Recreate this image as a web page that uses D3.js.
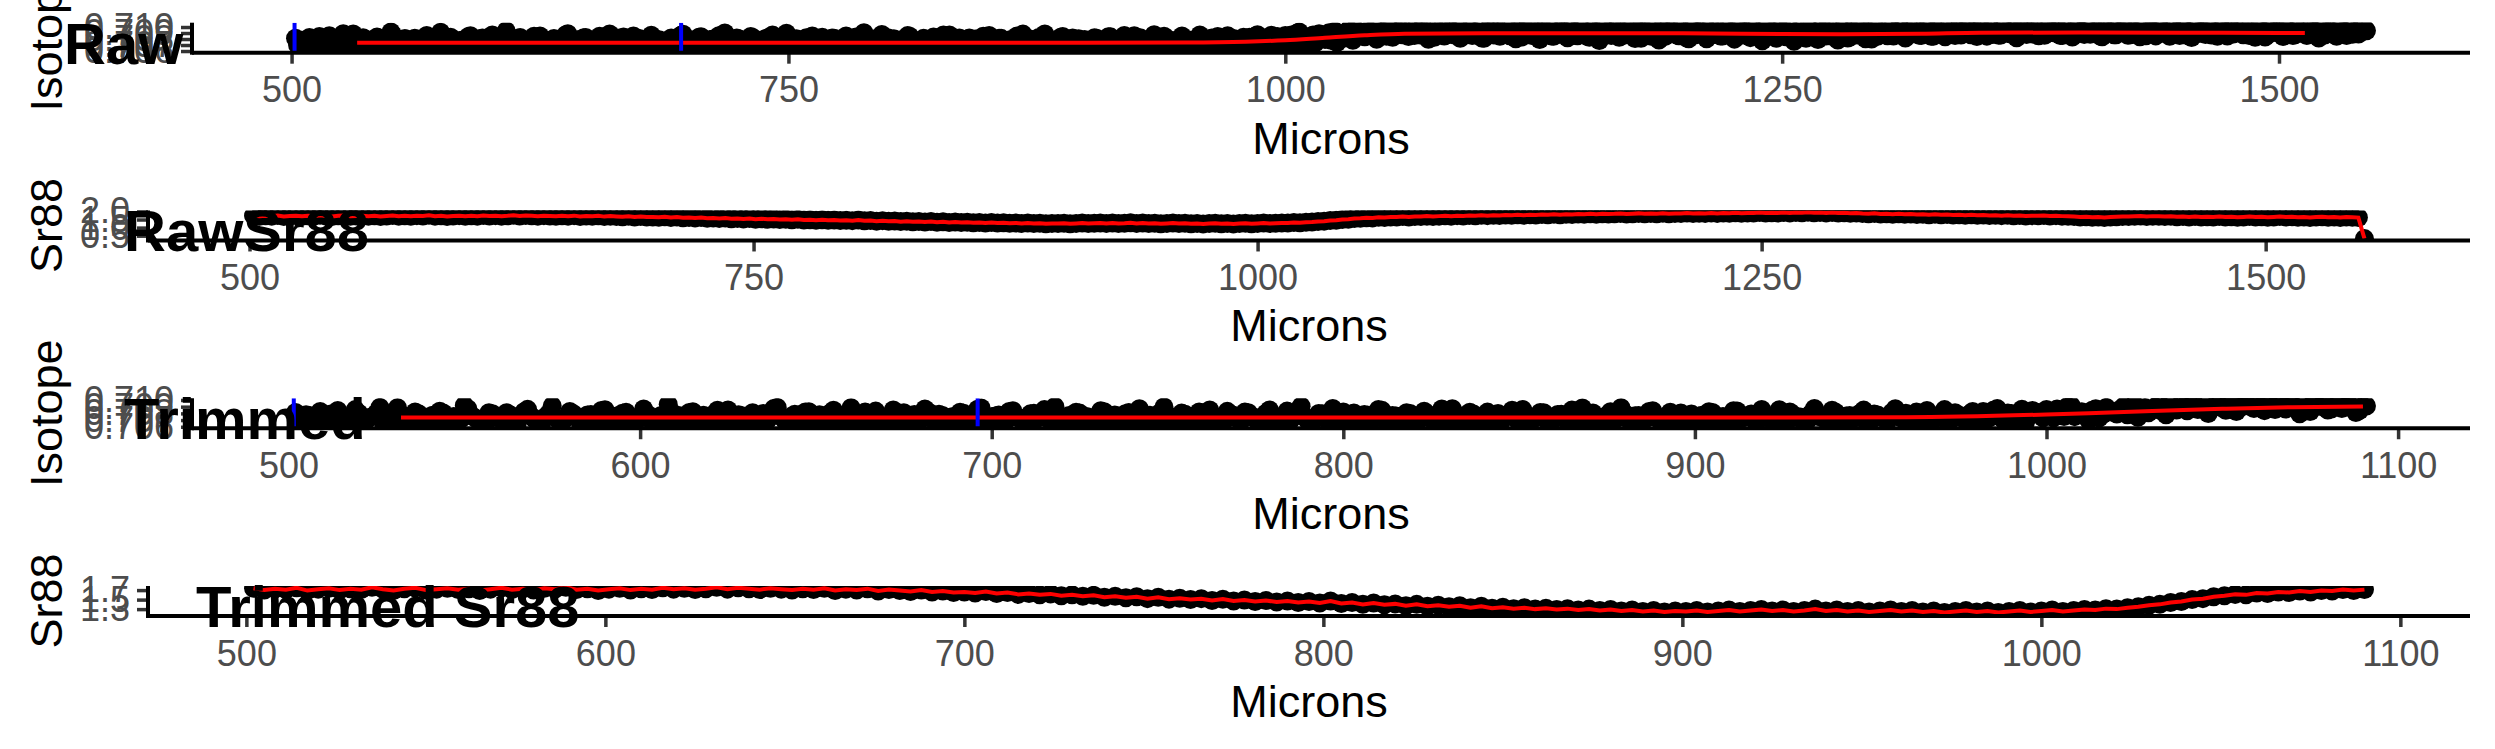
<!DOCTYPE html>
<html><head><meta charset="utf-8">
<script src="https://cdn.jsdelivr.net/npm/d3@7"></script>
<style>body{margin:0;background:#fff}svg{display:block}text{font-family:"Liberation Sans",Arial,Helvetica,sans-serif}</style>
</head><body><svg id="c" width="2495" height="749"></svg>
<script>
// ---------------- data ----------------
// Isotope ratio samples (value = 0.70 + v/1e5). Even-micron samples from 502, odd-micron samples from 503.
const isoStartA = 502, isoStartB = 503, isoStep = 2;
const isotopeA = [
812,671,768,739,655,790,842,701,733,801,688,757,889,720,640,779,730,822,695,748,
716,806,662,741,918,769,707,631,795,728,811,668,752,860,713,650,799,737,694,829,
741,703,783,648,854,761,718,817,676,729,790,622,770,935,705,744,813,667,772,697,
846,725,652,779,710,808,739,682,871,757,671,788,715,826,640,746,803,694,762,883,
723,819,669,748,700,851,645,731,785,716,821,679,769,738,626,800,712,862,664,751,
775,691,838,730,659,802,744,719,899,685,768,817,648,740,698,826,760,666,795,721,
868,690,757,812,652,733,804,705,770,630,852,742,675,786,716,819,747,644,801,727,
698,834,762,906,683,739,794,657,758,821,714,642,784,733,857,688,769,718,811,661,
741,789,696,867,726,638,765,816,706,744,672,799,750,846,663,779,717,813,689,736,
787,648,760,882,711,752,680,824,735,797,654,770,719,841,692,763,660,806,742,713,
771,823,684,753,642,836,737,790,699,765,
724,853,663,781,746,693,872,759,708,818,667,770,739,849,690,777,716,812,753,
801,690,776,842,712,759,668,810,737,786,
705,829,741,871,690,798,752,664,843,779,
857,736,812,902,751,826,700,869,783,838,
790,905,818,741,887,852,956,779,861,922,
838,948,866,797,921,884,1003,829,905,958,
948,841,912,1009,866,931,795,884,967,902,850,1021,873,936,812,905,982,859,927,889,
814,959,897,1034,846,918,875,992,803,941,883,1012,858,927,790,969,904,849,1040,881,
935,822,976,868,1005,911,842,954,889,776,1017,903,860,947,829,990,872,921,807,958,
896,1026,848,913,785,971,879,934,1046,856,902,817,985,867,942,898,803,1001,874,927,
851,964,887,798,1019,869,932,823,958,880,771,995,854,916,880,1008,837,897,764,943,
872,813,969,886,790,1004,851,926,868,784,957,890,829,1012,865,921,806,973,884,846,
937,874,1019,849,905,963,818,992,887,931,860,1037,902,845,977,913,836,1006,889,950,
865,1024,918,951,843,989,905,1048,876,932,866,1015,898,958,821,976,925,1041,884,947,
903,862,995,931,1030,857,968,914,834,1009,942,877,1027,896,953,848,985,921,1044,872,
939,1001,861,962,917,836,1019,905,971,852,996,930,879,1038,913,859,982,944,825,1006,
897,958,1023,866,935,880,1012,849,967,918,1036,871,946,901,828,990,926,863,1017,909,
952,842,996,905,871,1025,918,860,983,937,815,1004,892,948,869,1031,903,857,975,921,
884,1049,938
];
const isotopeB = [
702,781,659,827,744,693,768,718,856,675,739,802,661,754,884,707,726,795,648,771,
833,689,752,714,869,736,667,808,745,690,779,631,824,757,702,748,912,683,735,796,
661,776,720,843,694,758,803,677,731,866,709,747,640,815,768,699,826,734,672,789,
717,852,684,763,728,641,797,744,889,706,755,668,821,735,779,695,847,726,658,802,
749,691,834,712,770,655,808,739,697,864,720,786,633,752,817,706,743,879,674,761,
695,828,747,670,793,731,856,688,764,719,637,804,752,698,841,727,775,660,813,742,
686,771,718,895,749,664,787,733,822,701,758,646,830,767,692,811,738,675,852,719,
763,697,826,741,658,799,716,874,688,752,806,639,773,729,845,694,761,718,797,670,
832,715,754,681,868,737,702,790,653,819,746,687,772,726,858,699,740,811,664,785,
721,849,692,758,805,647,773,736,884,710,765,679,828,743,696,817,732,656,790,757,
688,812,745,673,838,719,764,702,859,731,
776,694,821,737,667,795,752,713,846,684,760,728,803,651,789,742,699,869,724,
752,819,694,781,737,856,711,774,690,829,
776,713,851,738,807,684,862,759,821,735,
794,865,752,917,808,771,846,733,889,812,
863,779,931,842,808,894,826,967,851,903,
912,858,979,874,929,846,997,889,936,871,
902,967,858,935,1004,881,944,829,918,989,866,952,897,1030,843,911,978,870,941,815,
926,1008,869,947,884,1041,853,915,972,834,960,901,1019,862,938,889,996,845,928,973,
879,1013,920,856,987,903,831,966,912,1035,871,944,889,998,850,921,1027,884,956,812,
943,876,1009,895,962,841,1022,907,868,981,924,803,995,881,939,1052,866,915,978,849,
907,968,836,1012,894,941,865,989,918,847,1006,879,933,811,972,902,1031,858,925,880,
864,992,907,826,958,883,1015,846,931,875,999,818,951,897,1026,862,940,801,983,918,
911,853,976,935,1008,872,947,899,1039,861,924,988,847,963,906,1017,879,942,857,995,
929,1003,871,958,892,1036,848,975,917,862,1011,939,883,968,905,1043,876,931,992,854,
946,888,1017,903,971,859,1006,924,866,988,941,1032,879,915,962,838,1001,927,870,983,
908,1027,871,949,894,1014,853,966,932,881,1008,918,847,979,940,1033,865,921,987,896,
958,874,1021,909,846,987,933,1040,882,951,897,1015,859,942,908,981,835,1004,925,968,
889,1012,936,859,978,907,1036,873,945,892,1009,866,957,918,847,997,928,1045,881,954,
910,972
];
// Sr88 samples, one every 3 microns from 502
const srStart = 502, srStep = 3;
const sr88Raw = [
1.74,1.70,1.73,1.71,1.75,1.69,1.72,1.74,1.70,1.73,
1.71,1.76,1.72,1.69,1.73,1.75,1.70,1.72,1.74,1.71,
1.73,1.69,1.72,1.75,1.71,1.73,1.70,1.74,1.72,1.76,
1.71,1.73,1.69,1.72,1.74,1.70,1.73,1.71,1.75,1.72,
1.74,1.71,1.73,1.76,1.72,1.75,1.73,1.71,1.74,1.72,
1.70,1.73,1.71,1.74,1.69,1.72,1.70,1.73,1.68,1.71,
1.69,1.67,1.70,1.66,1.68,1.65,
1.66,1.64,1.67,1.63,1.65,1.61,1.63,1.60,1.62,1.58,
1.60,1.57,1.59,1.55,1.57,1.54,1.56,1.52,1.55,1.51,
1.53,1.50,1.52,1.48,1.51,1.47,1.49,1.46,1.48,1.45,
1.47,1.44,1.46,1.43,
1.47,1.42,1.44,1.40,1.43,1.39,1.41,1.37,1.40,1.36,
1.38,1.35,1.37,1.33,1.36,1.32,1.34,1.31,1.33,1.30,
1.32,1.29,1.31,1.28,1.30,1.27,1.29,1.26,1.28,1.25,
1.27,1.24,1.26,1.25,
1.27,1.24,1.26,1.28,1.25,1.27,1.29,1.26,1.28,1.25,
1.27,1.30,1.26,1.28,1.25,1.27,1.24,1.26,1.28,1.25,
1.27,1.24,1.26,1.23,1.25,1.27,1.24,1.26,1.23,1.25,
1.27,1.24,1.26,1.28,1.25,1.27,1.29,1.28,1.31,1.30,
1.33,1.35,1.38,1.40,1.44,1.46,1.50,1.52,1.56,1.58,
1.61,1.60,1.64,1.63,1.66,1.65,1.68,1.66,1.69,1.68,
1.71,1.69,1.71,
1.73,1.71,1.74,1.72,1.75,1.73,1.76,1.74,1.77,1.75,
1.78,1.76,1.79,1.77,1.80,1.78,1.81,1.79,1.82,1.80,
1.83,1.81,1.84,1.82,1.85,1.83,1.86,1.84,1.85,1.87,
1.84,1.86,1.88,1.85,1.87,1.86,1.89,1.86,1.88,1.87,
1.90,1.87,1.89,1.88,1.91,1.88,1.90,1.89,1.92,1.89,
1.91,1.90,1.93,1.90,1.92,1.91,1.94,1.91,1.93,1.92,
1.95,1.92,1.94,1.91,1.93,1.90,1.92,1.89,1.91,
1.87,1.85,1.88,1.84,1.86,1.83,1.85,1.82,1.84,1.81,
1.83,1.80,1.82,1.79,1.81,1.78,1.80,1.77,1.79,1.76,
1.78,1.75,1.77,1.74,1.76,1.73,1.75,1.72,1.74,1.73,
1.75,1.72,1.74,1.71,
1.70,1.68,1.66,1.67,1.64,1.66,1.63,1.65,1.67,1.69,
1.68,1.70,1.72,1.69,1.71,1.70,1.68,1.70,1.67,1.69,
1.66,1.68,1.65,1.67,1.66,1.68,1.65,1.67,1.64,1.66,
1.68,1.65,1.67,1.64,1.66,1.68,1.65,1.67,1.64,1.66,
1.63,1.65,1.67,1.64,1.66,1.63,1.65,1.64,1.62,
0.32
];
// Smoothed isotope curves (red), same units as the isotope arrays
const smoothRawX = [533,600,700,800,900,950,980,1000,1020,1040,1060,1100,1150,1200,1250,1280,1320,1350,1400,1450,1500,1513];
const smoothRawY = [738,737,736,737,738,742,755,780,822,862,888,895,897,895,885,880,888,905,908,906,900,900];
const smoothTrimX = [532,600,700,800,900,960,1000,1020,1050,1070,1090];
const smoothTrimY = [738,737,737,737,737,742,783,817,868,892,902];
const blueLines = [501.5, 696];
const trimRange = [500, 1091];
const xTicksRaw = [500, 750, 1000, 1250, 1500];
const xTicksTrim = [500, 600, 700, 800, 900, 1000, 1100];
const yTicksIso = [0.706, 0.707, 0.708, 0.709, 0.710];
const yTicksSrRaw = [0.5, 1.0, 1.5, 2.0];
const yTicksSrTrim = [1.3, 1.5, 1.7];
const yDomIsoRaw = [0.70572, 0.71072];
const yDomIsoTrim = [0.70578, 0.71026];
const yDomSrRaw = [0.204, 2.06];
const yDomSrTrim = [1.155, 1.786];
const titles = ["Raw", "RawSr88", "Trimmed", "Trimmed Sr88"];
const yTitles = ["Isotope", "Sr88", "Isotope", "Sr88"];
const xTitle = "Microns";

// ---------------- build series ----------------
const isoPts = isotopeA.map((v, i) => ({x: isoStartA + i * isoStep, y: 0.70 + v / 1e5}))
  .concat(isotopeB.map((v, i) => ({x: isoStartB + i * isoStep, y: 0.70 + v / 1e5})))
  .sort((a, b) => a.x - b.x);
const srPts = sr88Raw.map((v, i) => ({x: srStart + i * srStep, y: v}));
const inTrim = d => d.x >= trimRange[0] && d.x <= trimRange[1];
const smoothRaw = smoothRawX.map((x, i) => ({x, y: 0.70 + smoothRawY[i] / 1e5}));
const smoothTrim = smoothTrimX.map((x, i) => ({x, y: 0.70 + smoothTrimY[i] / 1e5}));

const panels = [
  {pts: isoPts, line: smoothRaw, smooth: true, vl: true, xt: xTicksRaw, yt: yTicksIso, yd: yDomIsoRaw, fmt: d3.format(".3f"), left: 192, tx: 64},
  {pts: srPts, line: srPts, smooth: false, vl: false, xt: xTicksRaw, yt: yTicksSrRaw, yd: yDomSrRaw, fmt: d3.format(".1f"), left: 148, tx: 124},
  {pts: isoPts.filter(inTrim), line: smoothTrim, smooth: true, vl: true, xt: xTicksTrim, yt: yTicksIso, yd: yDomIsoTrim, fmt: d3.format(".3f"), left: 192, tx: 124},
  {pts: srPts.filter(inTrim), line: srPts.filter(inTrim), smooth: false, vl: false, xt: xTicksTrim, yt: yTicksSrTrim, yd: yDomSrTrim, fmt: d3.format(".1f"), left: 148, tx: 196}
];

// ---------------- draw ----------------
const svg = d3.select("#c");
const right = 2470, ph = 30, r = 9.5;
panels.forEach((p, k) => {
  const bottom = 52.7 + k * 187.77, top = bottom - ph;
  const ext = d3.extent(p.pts, d => d.x), pad = (ext[1] - ext[0]) * 0.05;
  const x = d3.scaleLinear().domain([ext[0] - pad, ext[1] + pad]).range([p.left, right]);
  const y = d3.scaleLinear().domain(p.yd).range([bottom, top]);
  const g = svg.append("g");
  const cid = "clip" + k;
  svg.append("clipPath").attr("id", cid).append("rect")
    .attr("x", p.left).attr("y", top).attr("width", right - p.left).attr("height", ph);
  const body = g.append("g").attr("clip-path", `url(#${cid})`);
  body.selectAll("circle").data(p.pts).join("circle")
    .attr("cx", d => x(d.x)).attr("cy", d => y(d.y)).attr("r", r).attr("fill", "#000");
  const line = d3.line().x(d => x(d.x)).y(d => y(d.y));
  if (p.smooth) line.curve(d3.curveMonotoneX);
  body.append("path").datum(p.line).attr("d", line)
    .attr("fill", "none").attr("stroke", "#FF0000").attr("stroke-width", 4);
  if (p.vl) body.selectAll("line.vl").data(blueLines).join("line").attr("class", "vl")
    .attr("x1", d => x(d)).attr("x2", d => x(d)).attr("y1", top).attr("y2", bottom)
    .attr("stroke", "#0000FF").attr("stroke-width", 4);

  // axes
  const xa = g.append("g").attr("transform", `translate(0,${bottom})`)
    .call(d3.axisBottom(x).tickValues(p.xt).tickSize(11).tickPadding(13).tickFormat(d3.format("d")));
  xa.select(".domain").remove();
  xa.selectAll(".tick line").attr("stroke", "#333333").attr("stroke-width", 3.5);
  xa.selectAll(".tick text").attr("fill", "#4D4D4D").attr("font-size", 36)
    .attr("font-family", '"Liberation Sans",Arial,sans-serif');
  const ya = g.append("g").attr("transform", `translate(${p.left},0)`)
    .call(d3.axisLeft(y).tickValues(p.yt).tickSize(11).tickPadding(7).tickFormat(p.fmt));
  ya.select(".domain").remove();
  ya.selectAll(".tick line").attr("stroke", "#333333").attr("stroke-width", 3.5);
  ya.selectAll(".tick text").attr("fill", "#4D4D4D").attr("font-size", 36)
    .attr("font-family", '"Liberation Sans",Arial,sans-serif');
  g.append("line").attr("x1", p.left).attr("x2", right).attr("y1", bottom).attr("y2", bottom)
    .attr("stroke", "#000").attr("stroke-width", 4);
  g.append("line").attr("x1", p.left).attr("x2", p.left).attr("y1", top).attr("y2", bottom + 2)
    .attr("stroke", "#000").attr("stroke-width", 4);

  // titles
  g.append("text").attr("x", (p.left + right) / 2).attr("y", bottom + 101)
    .attr("text-anchor", "middle").attr("font-size", 45).attr("fill", "#000").text(xTitle);
  g.append("text").attr("transform", `translate(62,${(top + bottom) / 2}) rotate(-90)`)
    .attr("text-anchor", "middle").attr("font-size", 45).attr("fill", "#000").text(yTitles[k]);
  g.append("text").attr("x", p.tx).attr("y", bottom + 11)
    .attr("font-size", 58).attr("font-weight", "bold").attr("fill", "#000").text(titles[k]);
});
</script></body></html>
